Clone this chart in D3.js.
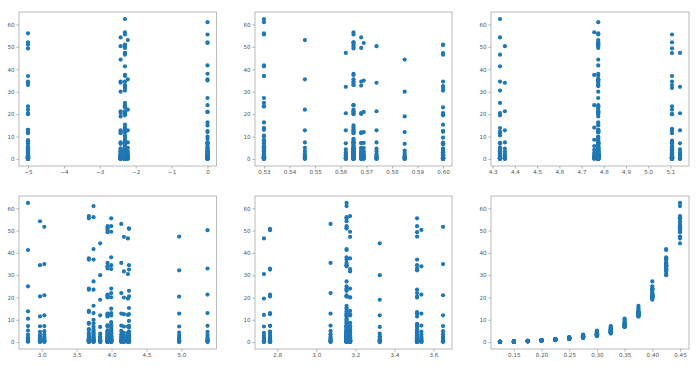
<!DOCTYPE html>
<html><head><meta charset="utf-8">
<script src="https://cdn.jsdelivr.net/npm/d3@7"></script>
<style>body{margin:0;background:#fff}svg{display:block}</style>
</head><body><svg id="c" width="700" height="367"></svg>
<script>
// Hull features: LCB, Cp, L/Disp, B/T, L/B  (22 hulls)
const lcb   = [-2.3,-2.42,0,-2.3,-2.3,0,-5,-2.42,0,-5,-5,0,-5,-2.3,-2.22,-2.3,-2.3,-2.3,-2.3,-2.3,-2.3,-2.42];
const cp    = [0.53,0.568,0.569,0.565,0.53,0.53,0.53,0.585,0.565,0.565,0.565,0.565,0.565,0.568,0.546,0.60,0.60,0.60,0.60,0.562,0.565,0.574];
const ldisp = [4.333,4.333,4.775,4.757,5.107,4.775,4.775,4.775,4.775,4.775,5.107,4.775,5.107,4.775,4.775,5.107,4.333,4.775,4.775,5.143,4.775,4.355];
const bt    = [2.804,2.976,3.038,3.675,3.675,3.742,3.742,3.837,3.943,3.943,3.943,3.995,3.995,3.995,4.139,4.177,4.234,4.249,4.249,4.967,5.373,3.943];
const lb    = [3.155,3.155,3.649,3.173,3.516,3.155,3.155,3.325,3.155,3.155,3.516,3.155,3.516,3.173,3.073,3.173,2.732,3.155,2.763,3.516,2.763,3.538];
const froude = [0.125,0.15,0.175,0.2,0.225,0.25,0.275,0.3,0.325,0.35,0.375,0.4,0.425,0.45];
// residuary resistance per hull, one value per Froude number
const resist = [
 [0.20,0.34,0.60,1.00,1.45,2.20,3.40,5.20,7.20,10.5,13.8,25.0,41.3,62.4],
 [0.08,0.20,0.40,0.70,1.10,1.60,2.30,3.30,4.60,7.10,11.5,20.5,34.5,54.2],
 [0.10,0.22,0.42,0.72,1.10,1.65,2.40,3.50,4.90,7.20,12.0,21.0,35.0,51.7],
 [0.12,0.28,0.50,0.85,1.25,1.90,2.80,4.10,5.80,8.60,14.0,24.0,37.5,56.5],
 [0.10,0.25,0.48,0.80,1.20,1.80,2.70,3.90,5.60,8.20,13.5,23.5,37.0,55.5],
 [0.15,0.30,0.55,0.92,1.38,2.10,3.20,4.80,6.90,10.0,16.3,27.2,41.7,61.0],
 [0.12,0.26,0.50,0.82,1.22,1.85,2.75,4.00,5.70,8.40,13.0,23.5,37.0,56.0],
 [0.02,0.12,0.30,0.52,0.82,1.30,1.85,2.65,3.80,6.80,12.0,19.0,30.0,44.3],
 [0.10,0.24,0.45,0.76,1.15,1.70,2.50,3.60,5.10,7.50,12.5,21.0,35.5,52.0],
 [0.09,0.22,0.43,0.72,1.10,1.65,2.40,3.50,4.80,7.20,12.0,20.5,34.0,51.0],
 [0.06,0.18,0.38,0.66,1.02,1.55,2.20,3.10,4.40,6.90,11.5,20.0,33.0,49.3],
 [0.13,0.29,0.52,0.88,1.30,2.00,2.90,4.30,6.20,9.00,15.0,24.0,38.0,55.5],
 [0.10,0.24,0.45,0.76,1.16,1.75,2.55,3.70,5.20,7.80,13.0,22.0,34.5,52.0],
 [0.11,0.27,0.47,0.78,1.18,1.82,2.61,3.76,4.99,7.16,11.93,20.11,32.75,49.49],
 [0.09,0.23,0.44,0.74,1.13,1.70,2.45,3.55,5.00,7.40,12.8,22.0,35.5,53.0],
 [0.05,0.16,0.35,0.60,0.95,1.45,2.05,2.95,4.20,7.00,12.5,20.0,31.7,47.2],
 [0.04,0.15,0.33,0.58,0.92,1.40,2.00,2.90,4.10,7.00,12.2,19.5,30.5,46.5],
 [0.14,0.30,0.55,0.90,1.35,2.05,3.00,4.50,6.50,9.50,15.3,23.0,34.5,51.0],
 [0.08,0.20,0.40,0.70,1.08,1.60,2.35,3.40,4.70,7.30,12.5,20.5,32.5,50.8],
 [0.05,0.17,0.36,0.62,0.96,1.48,2.10,3.00,4.30,7.00,12.8,20.4,32.2,47.3],
 [0.08,0.21,0.41,0.70,1.07,1.60,2.30,3.30,4.60,7.30,13.0,21.3,33.0,50.2],
 [0.07,0.20,0.40,0.69,1.06,1.60,2.30,3.35,4.70,7.40,12.8,21.3,34.0,50.3]
];
const yTicks = [0,10,20,30,40,50,60];
const xTicks = [
 [-5,-4,-3,-2,-1,0],
 [0.53,0.54,0.55,0.56,0.57,0.58,0.59,0.60],
 [4.3,4.4,4.5,4.6,4.7,4.8,4.9,5.0,5.1],
 [3.0,3.5,4.0,4.5,5.0],
 [2.8,3.0,3.2,3.4,3.6],
 [0.15,0.20,0.25,0.30,0.35,0.40,0.45]
];
const xDecimals = [0,2,1,1,1,2];

const svg = d3.select('#c');
const cols = [[19,216.5],[255,452],[491,689]];
const rows = [[12,166],[196,349]];
const features = [lcb,cp,ldisp,bt,lb];
const fmtMinus = s => s.replace('-', '\u2212');

const panels = [];
for (let f=0; f<6; f++) {
  const pts = [];
  resist.forEach((r,h) => r.forEach((v,i) => {
    const xv = f<5 ? features[f][h] : froude[i];
    pts.push([xv, v]);
  }));
  panels.push(pts);
}
const allY = panels[0].map(p=>p[1]);
const [y0,y1] = d3.extent(allY);
const ym = (y1-y0)*0.05;

panels.forEach((pts,f) => {
  const c = cols[f%3], r = rows[Math.floor(f/3)];
  const [x0,x1] = d3.extent(pts, p=>p[0]);
  const xm = (x1-x0)*0.05;
  const x = d3.scaleLinear().domain([x0-xm, x1+xm]).range(c);
  const y = d3.scaleLinear().domain([y0-ym, y1+ym]).range([r[1], r[0]]);
  const g = svg.append('g');
  const xa = d3.axisBottom(x).tickValues(xTicks[f]).tickSize(2.5).tickPadding(1.5)
     .tickFormat(d => fmtMinus(d3.format('.'+xDecimals[f]+'f')(d)));
  const ya = d3.axisLeft(y).tickValues(yTicks).tickSize(2.5).tickPadding(2)
     .tickFormat(d3.format('d'));
  const gx = g.append('g').attr('transform',`translate(0,${r[1]})`).call(xa);
  const gy = g.append('g').attr('transform',`translate(${c[0]},0)`).call(ya);
  [gx,gy].forEach(a => {
    a.select('.domain').remove();
    a.selectAll('line').attr('stroke','#808080').attr('stroke-width',0.6);
    a.selectAll('text').attr('fill','#555').attr('font-family','DejaVu Sans').attr('font-size','5.6px');
  });
  g.append('g').selectAll('circle').data(pts).join('circle')
    .attr('cx', d=>x(d[0])).attr('cy', d=>y(d[1])).attr('r',2.1)
    .attr('fill','#1f77b4');
  g.append('rect').attr('x',c[0]).attr('y',r[0]).attr('width',c[1]-c[0]).attr('height',r[1]-r[0])
    .attr('fill','none').attr('stroke','#a8a8a8').attr('stroke-width',0.8);
});
</script></body></html>
